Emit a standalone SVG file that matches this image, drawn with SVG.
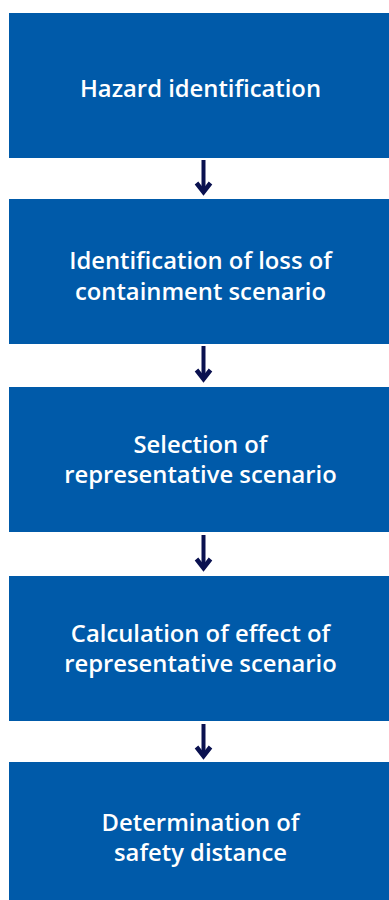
<svg xmlns="http://www.w3.org/2000/svg" width="389" height="900" viewBox="0 0 389 900">
<style>
.box{fill:#005aa9}
.t{font-family:"Open Sans","Liberation Sans",sans-serif;font-weight:600;font-size:23.8px;fill:#ffffff;text-anchor:middle}
.sh{stroke:#0a1150;stroke-width:4;fill:none}
.hd{stroke:#0a1150;stroke-width:4.5;fill:none;stroke-linejoin:miter}
</style>
<rect width="389" height="900" fill="#ffffff"/>
<g id="n1"><rect class="box" x="9" y="13" width="380" height="145"/><text class="t" x="200.5" y="97">Hazard identification</text></g>
<g id="n2"><rect class="box" x="9" y="199" width="380" height="145"/><text class="t" x="200.5" y="269">Identification of loss of</text><text class="t" x="200.5" y="300">containment scenario</text></g>
<g id="n3"><rect class="box" x="9" y="387" width="380" height="145"/><text class="t" x="200.5" y="453">Selection of</text><text class="t" x="200.5" y="483">representative scenario</text></g>
<g id="n4"><rect class="box" x="9" y="576" width="380" height="145"/><text class="t" x="200.5" y="642">Calculation of effect of</text><text class="t" x="200.5" y="672">representative scenario</text></g>
<g id="n5"><rect class="box" x="9" y="762" width="380" height="138"/><text class="t" x="200.5" y="831">Determination of</text><text class="t" x="200.5" y="861">safety distance</text></g>
<g id="connectors">
<path class="sh" d="M203.5 160V192"/><path class="hd" d="M196.5 183L203.5 192L210.5 183"/>
<path class="sh" d="M203.5 346V379"/><path class="hd" d="M196.5 370L203.5 379L210.5 370"/>
<path class="sh" d="M203.5 535V568"/><path class="hd" d="M196.5 559L203.5 568L210.5 559"/>
<path class="sh" d="M203.5 724V756"/><path class="hd" d="M196.5 747L203.5 756L210.5 747"/>
</g>
</svg>
